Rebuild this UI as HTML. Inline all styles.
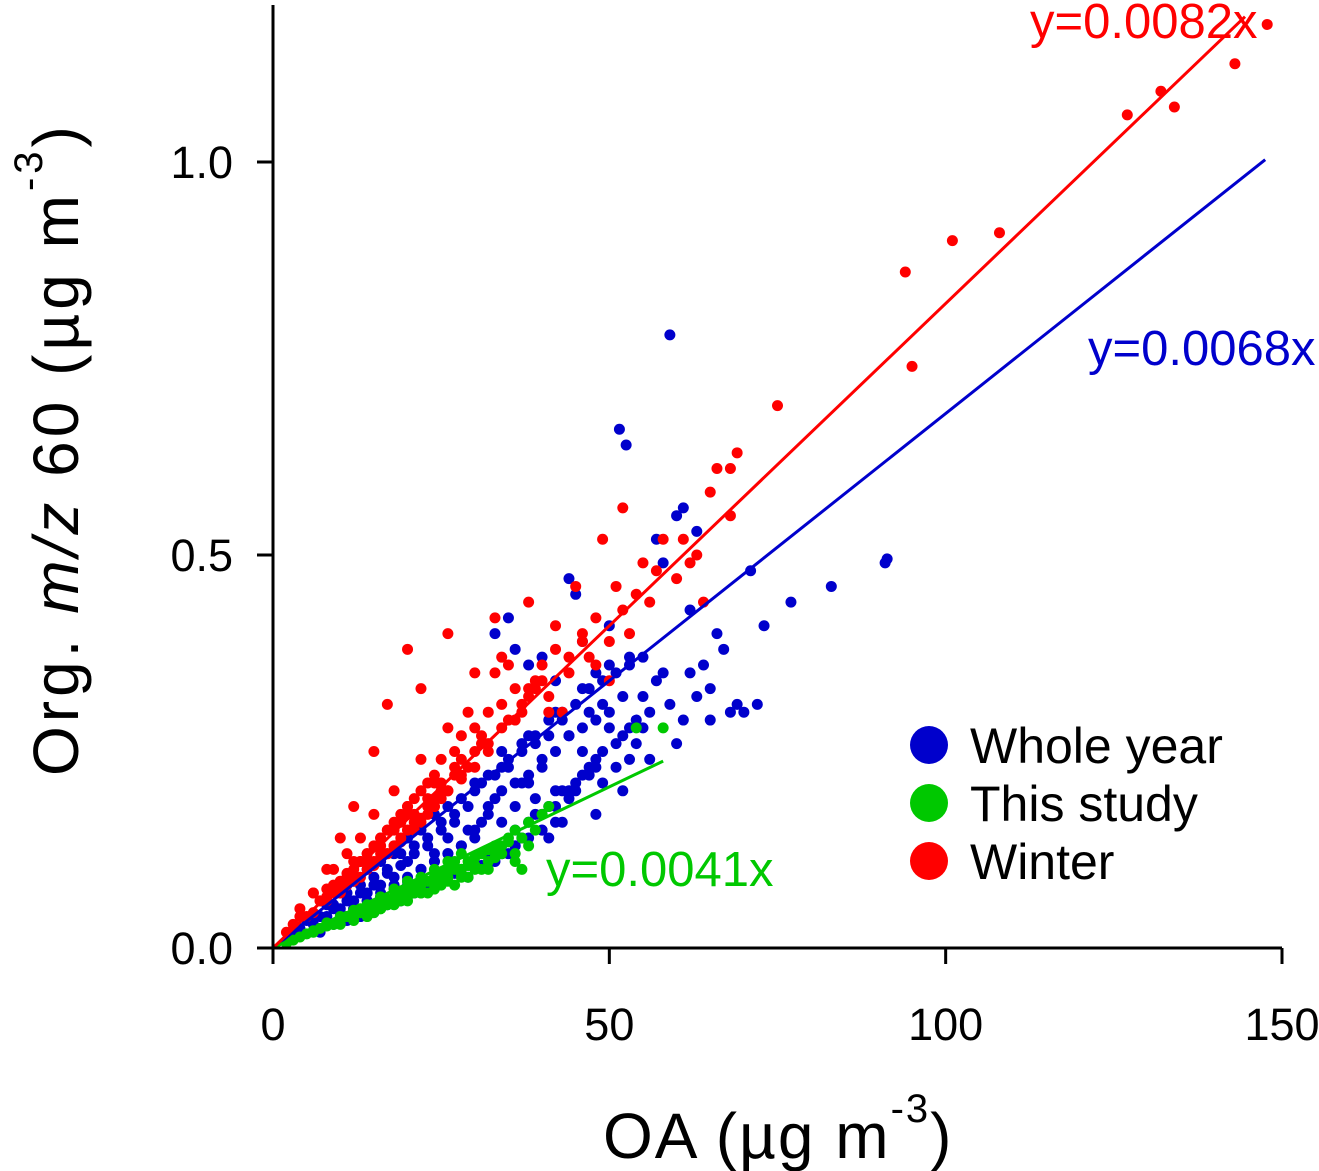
<!DOCTYPE html>
<html><head><meta charset="utf-8"><style>
body{margin:0;background:#fff}
svg{display:block;font-family:"Liberation Sans",sans-serif}
</style></head><body>
<svg id="chart" width="1319" height="1171">
<g id="marks"></g>
<g id="axes"></g>
</svg>
<script>
const blueX=[59,51.5,52.5,91,91.3,71,83,77,73,72,70,68,65,62,60,61,63,57,58,44,45,33,35,36,38,40,42,46,48,50,53,55,56,54,49,47,43,41,39,37,34,32,30,28,26,24,22,20,18,16,14,12,10,8,6,5,4,3,44,46,48,50,52,54,40,42,38,36,34,32,30,28,26,24,22,20,18,16,14,12,10,8,6,47,49,51,53,55,57,59,61,63,64,66,67,60,56,52,48,44,40,36,32,28,24,20,16,12,45,43,41,39,37,35,33,31,29,27,25,23,21,19,17,15,13,11,9,7,58,62,65,69,50,46,42,38,34,30,
 31,33,35,37,39,41,43,45,47,49,51,53,55,32,34,36,38,40,42,44,46,48,50,52,29,27,25,23,21,19,17,15,13,11,9,30,28,26,24,22,20,18,16,14,12,10,8,39,41,43,45,47,49,51,53,36,38,40,42,44,46,48,34,36,38,40,42,
 27,25,23,21,19,17,15,13,11,9,7,26,24,22,20,18,16,14,12,10,31,33,29,35,37];
const blueY=[0.78,0.66,0.64,0.49,0.495,0.48,0.46,0.44,0.41,0.31,0.30,0.30,0.33,0.35,0.55,0.56,0.53,0.52,0.49,0.47,0.45,0.40,0.42,0.38,0.36,0.37,0.34,0.33,0.35,0.36,0.37,0.32,0.30,0.29,0.31,0.30,0.29,0.27,0.26,0.25,0.23,0.22,0.21,0.19,0.18,0.17,0.15,0.14,0.12,0.11,0.10,0.085,0.07,0.055,0.04,0.035,0.025,0.02,0.27,0.25,0.24,0.28,0.27,0.26,0.23,0.20,0.21,0.18,0.16,0.17,0.15,0.13,0.14,0.12,0.10,0.11,0.09,0.08,0.07,0.06,0.05,0.04,0.03,0.22,0.21,0.23,0.24,0.28,0.34,0.31,0.29,0.32,0.36,0.40,0.38,0.26,0.24,0.20,0.17,0.19,0.15,0.13,0.12,0.10,0.09,0.08,0.065,0.05,0.20,0.16,0.14,0.17,0.14,0.12,0.11,0.105,0.09,0.095,0.085,0.075,0.07,0.06,0.055,0.045,0.04,0.035,0.03,0.02,0.35,0.43,0.29,0.31,0.41,0.39,0.30,0.27,0.25,0.20,
 0.21,0.22,0.24,0.26,0.27,0.29,0.30,0.31,0.33,0.34,0.35,0.36,0.37,0.18,0.20,0.21,0.22,0.24,0.25,0.27,0.28,0.29,0.30,0.32,0.18,0.17,0.16,0.14,0.13,0.12,0.10,0.09,0.08,0.07,0.055,0.14,0.13,0.12,0.11,0.10,0.09,0.08,0.07,0.06,0.05,0.045,0.035,0.19,0.18,0.20,0.21,0.23,0.25,0.26,0.28,0.15,0.16,0.17,0.18,0.20,0.22,0.23,0.12,0.13,0.14,0.15,0.16,
 0.16,0.15,0.13,0.12,0.105,0.095,0.08,0.07,0.06,0.05,0.04,0.12,0.11,0.10,0.085,0.075,0.065,0.06,0.05,0.045,0.16,0.19,0.15,0.23,0.21];
const greenX=[54,58,41,40,38,36,35,33,32,31,30,29,28,27,26,25,24,23,22,21,20,19,18,17,16,15,14,13,12,11,10,9,8,7,6,5,4,3,2,36,34,32,30,28,26,24,22,20,18,16,14,12,10,8,6,37,33,29,25,21,17,13,9,
 39,37,35,33,31,29,27,25,23,21,19,17,15,13,11,34,32,30,28,26,24,22,20,18,16,14,12,10,36,38,31,27,23,19,15,
 28,26,24,22,20,18,16,14,12,10,8,25,21,17,13];
const greenY=[0.28,0.28,0.18,0.17,0.16,0.15,0.14,0.13,0.125,0.12,0.115,0.11,0.10,0.11,0.10,0.095,0.09,0.085,0.08,0.08,0.075,0.07,0.065,0.06,0.055,0.055,0.05,0.045,0.04,0.04,0.035,0.03,0.028,0.025,0.02,0.018,0.014,0.01,0.006,0.12,0.12,0.10,0.10,0.09,0.085,0.08,0.07,0.065,0.06,0.05,0.045,0.04,0.035,0.03,0.022,0.10,0.115,0.09,0.08,0.07,0.055,0.045,0.03,
 0.15,0.14,0.135,0.125,0.12,0.105,0.10,0.09,0.085,0.075,0.07,0.06,0.05,0.045,0.04,0.13,0.11,0.105,0.095,0.09,0.075,0.07,0.06,0.055,0.05,0.04,0.035,0.03,0.11,0.13,0.10,0.08,0.07,0.06,0.045,
 0.12,0.11,0.10,0.09,0.085,0.075,0.065,0.055,0.048,0.04,0.032,0.085,0.075,0.062,0.05];
const redX=[147.8,143,132,134,127,108,101,94,95,75,69,68,66,65,68,52,49,58,55,62,45,38,33,26,20,22,17,15,12,10,8,6,4,3,40,42,44,46,48,50,52,54,56,60,63,36,34,32,30,28,27,25,24,23,22,21,20,19,18,17,16,15,14,13,12,11,10,9,8,7,5,2,43,41,39,37,35,31,29,27,25,23,21,19,18,16,14,13,11,9,7,30,34,38,42,47,51,57,61,64,28,24,20,16,12,8,
 33,35,37,39,41,29,31,26,28,22,24,18,20,15,17,13,11,9,6,4,30,32,34,36,38,40,26,24,22,20,18,16,14,12,10,8,19,21,23,25,27,17,15,13,11,9,44,46,48,50,53,
 14,16,18,20,22,24,26,28,30,32,10,12,15,17,19,21,23,25,6,8];
const redY=[1.175,1.125,1.09,1.07,1.06,0.91,0.90,0.86,0.74,0.69,0.63,0.61,0.61,0.58,0.55,0.56,0.52,0.52,0.49,0.49,0.46,0.44,0.42,0.40,0.38,0.33,0.31,0.25,0.18,0.14,0.10,0.07,0.04,0.03,0.36,0.38,0.35,0.40,0.42,0.39,0.43,0.45,0.44,0.47,0.50,0.33,0.31,0.30,0.28,0.27,0.25,0.24,0.22,0.21,0.20,0.19,0.18,0.17,0.16,0.15,0.14,0.13,0.12,0.11,0.10,0.095,0.085,0.075,0.065,0.06,0.04,0.02,0.30,0.32,0.34,0.31,0.29,0.26,0.23,0.22,0.20,0.18,0.17,0.16,0.15,0.13,0.12,0.11,0.09,0.08,0.06,0.35,0.37,0.33,0.41,0.37,0.46,0.48,0.52,0.44,0.22,0.19,0.17,0.14,0.11,0.075,
 0.35,0.36,0.30,0.33,0.30,0.30,0.27,0.28,0.24,0.24,0.21,0.20,0.18,0.17,0.15,0.14,0.12,0.10,0.07,0.05,0.25,0.26,0.28,0.29,0.32,0.34,0.20,0.18,0.16,0.15,0.13,0.12,0.11,0.09,0.08,0.065,0.14,0.16,0.19,0.21,0.23,0.12,0.11,0.09,0.08,0.07,0.37,0.39,0.36,0.34,0.40,
 0.10,0.115,0.13,0.15,0.165,0.18,0.20,0.215,0.23,0.25,0.07,0.085,0.105,0.12,0.135,0.15,0.17,0.19,0.045,0.06];
const slopes=[0.0068,0.0041,0.0082];
const fitEnds=[147.5,58,144.5];
const xTicks=[0,50,100,150];
const yTicks=[0,0.5,1.0];
const yTickLabels=["0.0","0.5","1.0"];

const X0=273,X1=1282,Y0=948,YP=786;
const sx=v=>X0+v*(X1-X0)/150;
const sy=v=>Y0-v*YP;
const NS="http://www.w3.org/2000/svg";
const marks=document.getElementById('marks'),axes=document.getElementById('axes');
function mk(tag,at,parent){const e=document.createElementNS(NS,tag);for(const k in at)e.setAttribute(k,at[k]);parent.appendChild(e);return e;}
const clip=mk('clipPath',{id:'cp'},marks);mk('rect',{x:273,y:0,width:1046,height:948},clip);
marks.setAttribute('clip-path','url(#cp)');
const colors=['#0000cc','#00c800','#ff0000'];
const series=[[blueX,blueY],[greenX,greenY],[redX,redY]];
const names=['whole-year','this-study','winter'];
series.forEach((s,i)=>{
  s[0].forEach((x,j)=>{
    const c=mk('circle',{cx:sx(x),cy:sy(s[1][j]),r:5.5,fill:colors[i]},marks);
    
    
  });
});
[0,1,2].forEach(i=>{
  const l=mk('line',{x1:sx(0),y1:sy(0),x2:sx(fitEnds[i]),y2:sy(fitEnds[i]*slopes[i]),stroke:colors[i],'stroke-width':3},marks);
  
  
});
mk('line',{x1:X0,y1:5,x2:X0,y2:Y0+1,stroke:'#000','stroke-width':3},axes);
mk('line',{x1:X0-1,y1:Y0,x2:X1,y2:Y0,stroke:'#000','stroke-width':3},axes);
xTicks.forEach(v=>{
  mk('line',{x1:sx(v),y1:Y0,x2:sx(v),y2:Y0+16,stroke:'#000','stroke-width':3},axes);
  const t=mk('text',{x:sx(v),y:1040,'font-size':45,'text-anchor':'middle'},axes);t.textContent=v;
  
  
});
yTicks.forEach((v,i)=>{
  mk('line',{x1:X0-16,y1:sy(v),x2:X0,y2:sy(v),stroke:'#000','stroke-width':3},axes);
  const t=mk('text',{x:233,y:sy(v)+16,'font-size':45,'text-anchor':'end'},axes);t.textContent=yTickLabels[i];
  
  
});
</script>
<svg style="position:absolute;left:0;top:0" width="1319" height="1171">
<text x="1030" y="38" font-size="49" fill="#ff0000" font-family="Liberation Sans,sans-serif">y=0.0082x</text>
<text x="1088" y="365" font-size="49" fill="#0000cc" font-family="Liberation Sans,sans-serif">y=0.0068x</text>
<text x="546" y="886" font-size="49" fill="#00c800" font-family="Liberation Sans,sans-serif">y=0.0041x</text>
<g font-family="Liberation Sans,sans-serif" font-size="50">
<circle cx="929" cy="745" r="19" fill="#0000cc"/><text x="970" y="763">Whole year</text>
<circle cx="929" cy="803" r="19" fill="#00c800"/><text x="970" y="821">This study</text>
<circle cx="929" cy="861" r="19" fill="#ff0000"/><text x="970" y="879">Winter</text>
</g>
<text x="603" y="1158" font-size="64" letter-spacing="2" font-family="Liberation Sans,sans-serif">OA (µg m<tspan dy="-36" font-size="40">-3</tspan><tspan dy="36">)</tspan></text>
<text transform="translate(78,776) rotate(-90)" font-size="64" letter-spacing="4" font-family="Liberation Sans,sans-serif">Org. <tspan font-style="italic">m/z</tspan> 60 (µg m<tspan dy="-36" font-size="40">-3</tspan><tspan dy="36">)</tspan></text>
</svg>
</body></html>
